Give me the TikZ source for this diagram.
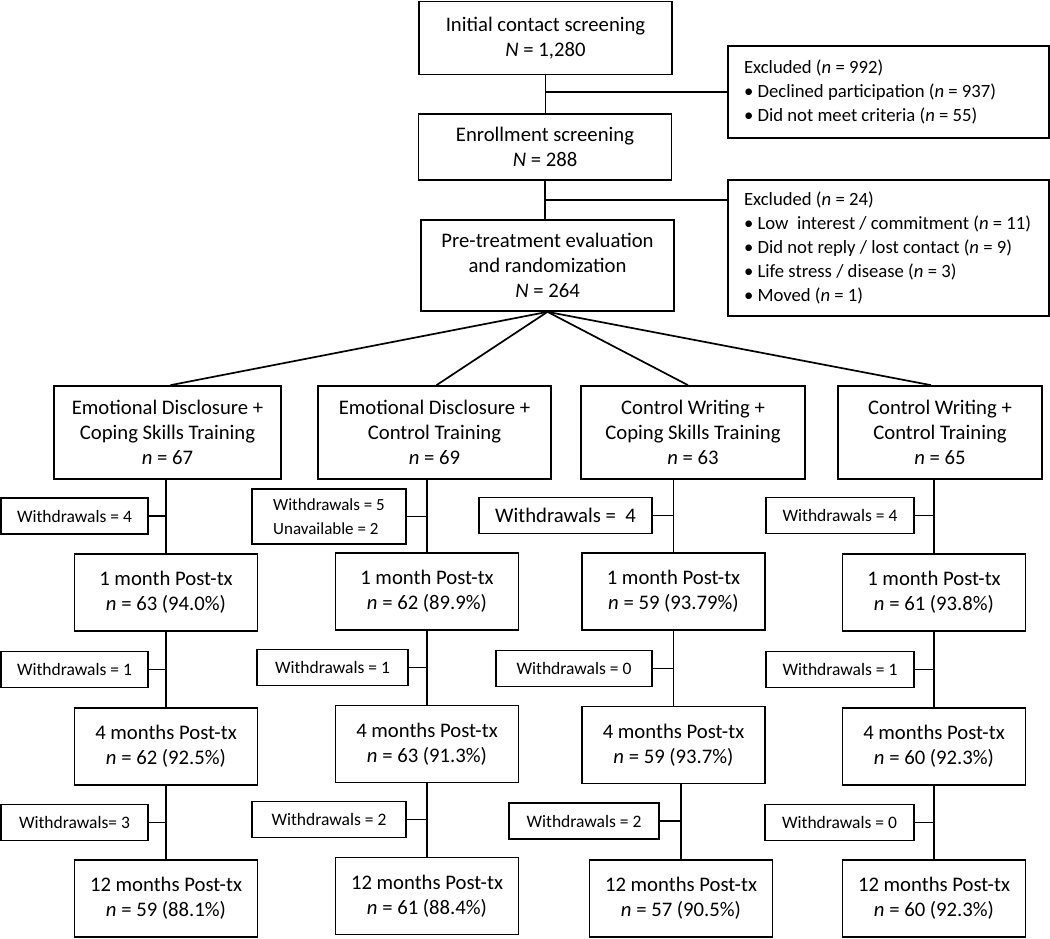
\documentclass[tikz,border=0pt]{standalone}
\usepackage{fontspec}
\setmainfont{Carlito}
\usetikzlibrary{calc}

\begin{document}
\begin{tikzpicture}[x=1pt,y=-1pt,line width=1.7pt,
	box/.style={draw,align=center,inner sep=2pt,minimum width=#1,font=\fontsize{20.7}{25}\selectfont},
	month/.style={box=183pt,minimum height=77pt},
	xbox/.style={draw,align=flush left,inner xsep=16pt,text width=289pt,minimum height=#1,font=\fontsize{18.7}{23.8}\selectfont},
	wbox/.style={draw,align=center,inner sep=1pt,minimum width=#1,minimum height=36pt,font=\fontsize{17.5}{24}\selectfont}]
		\useasboundingbox (0,0) rectangle (1050,938);

		\node[box=253pt,minimum height=73pt] (init) at (545.5,38) {Initial contact screening\\\textit{N} = 1,280};
		\node[box=253pt,minimum height=66pt] (enrol) at (545,147) {Enrollment screening\\\textit{N} = 288};
		\node[box=253pt,minimum height=91pt] (pretx) at (547.5,265.5) {Pre-treatment evaluation\\and randomization\\\textit{N} = 264};
		\node[xbox=92pt] (excl1) at (888.5,92) {Excluded (\textit{n} = 992)\\\textbullet{} Declined participation (\textit{n} = 937)\\\textbullet{} Did not meet criteria (\textit{n} = 55)};
		\node[xbox=136pt] (excl2) at (888.5,248) {Excluded (\textit{n} = 24)\\\textbullet{} Low\ \ interest / commitment (\textit{n} = 11)\\\textbullet{} Did not reply / lost contact (\textit{n} = 9)\\\textbullet{} Life stress / disease (\textit{n} = 3)\\\textbullet{} Moved (\textit{n} = 1)};

		\draw (init.south) -- (init.south |- enrol.north);
		\draw (excl1.west) -- (excl1.west -| init.south);
		\draw (enrol.south) -- (enrol.south |- pretx.north);
		\coordinate (b2) at ($(enrol.south)!.5!(enrol.south |- pretx.north)$);
		\draw (b2) -- (b2 -| excl2.west);

		\node[box=227pt,minimum height=93pt] (g1) at (167.5,432.5) {Emotional Disclosure +\\Coping Skills Training\\\textit{n} = 67};
		\node[box=233pt,minimum height=93pt] (g2) at (434.5,432.5) {Emotional Disclosure +\\Control Training\\\textit{n} = 69};
		\node[box=224pt,minimum height=93pt] (g3) at (693,432.5) {Control Writing +\\Coping Skills Training\\\textit{n} = 63};
		\node[box=204pt,minimum height=93pt] (g4) at (940,432.5) {Control Writing +\\Control Training\\\textit{n} = 65};

		\draw (pretx.south) -- ([xshift=3pt]g1.north);
		\draw (pretx.south) -- ([xshift=2pt]g2.north);
		\draw (pretx.south) -- ([xshift=-5pt]g3.north);
		\draw (pretx.south) -- ([xshift=-9pt]g4.north);

		\node[month] (m11) at (166,592.5) {1 month Post-tx\\\textit{n} = 63 (94.0\%)};
		\node[month] (m12) at (166,746.5) {4 months Post-tx\\\textit{n} = 62 (92.5\%)};
		\node[month] (m13) at (166,898.5) {12 months Post-tx\\\textit{n} = 59 (88.1\%)};
		\node[month] (m21) at (427,591.5) {1 month Post-tx\\\textit{n} = 62 (89.9\%)};
		\node[month] (m22) at (427,744) {4 months Post-tx\\\textit{n} = 63 (91.3\%)};
		\node[month] (m23) at (427,896) {12 months Post-tx\\\textit{n} = 61 (88.4\%)};
		\node[month] (m31) at (673.5,591.5) {1 month Post-tx\\\textit{n} = 59 (93.79\%)};
		\node[month] (m32) at (673.5,745) {4 months Post-tx\\\textit{n} = 59 (93.7\%)};
		\node[month] (m33) at (681,898.5) {12 months Post-tx\\\textit{n} = 57 (90.5\%)};
		\node[month] (m41) at (934,592.5) {1 month Post-tx\\\textit{n} = 61 (93.8\%)};
		\node[month] (m42) at (934,746.5) {4 months Post-tx\\\textit{n} = 60 (92.3\%)};
		\node[month] (m43) at (934,898.5) {12 months Post-tx\\\textit{n} = 60 (92.3\%)};

		\node[wbox=147pt] (w11) at (74.5,516) {Withdrawals = 4};
		\node[wbox=147pt] (w12) at (74.5,669.5) {Withdrawals = 1};
		\node[wbox=147pt] (w13) at (74.5,822.5) {Withdrawals= 3};
		\node[wbox=154pt,minimum height=55pt,align=flush left,font=\fontsize{17}{24}\selectfont] (w21) at (329,516.5) {Withdrawals = 5\\Unavailable = 2};
		\node[wbox=151pt] (w22) at (332.5,667.5) {Withdrawals = 1};
		\node[wbox=154pt] (w23) at (329,819.5) {Withdrawals = 2};
		\node[wbox=173pt,font=\fontsize{20.7}{25}\selectfont] (w31) at (565.5,515.5) {Withdrawals =\ \ 4};
		\node[wbox=156pt] (w32) at (574,668.5) {Withdrawals = 0};
		\node[wbox=150pt] (w33) at (584,821) {Withdrawals = 2};
		\node[wbox=148pt] (w41) at (840,515.5) {Withdrawals = 4};
		\node[wbox=148pt] (w42) at (840,669.5) {Withdrawals = 1};
		\node[wbox=149pt] (w43) at (839.5,822.5) {Withdrawals = 0};

		\draw (m11.north) -- (m11.north |- g1.south);
		\draw (m11.south) -- (m12.north);
		\draw (m12.south) -- (m13.north);
		\draw (m21.north) -- (m21.north |- g2.south);
		\draw (m21.south) -- (m22.north);
		\draw (m22.south) -- (m23.north);
		\draw (m31.north) -- (m31.north |- g3.south);
		\draw (m31.south) -- (m32.north);
		\draw (m33.north) -- (m33.north |- m32.south);
		\draw (m41.north) -- (m41.north |- g4.south);
		\draw (m41.south) -- (m42.north);
		\draw (m42.south) -- (m43.north);

		\draw (w11.east) -- (w11.east -| m11.north);
		\draw (w12.east) -- (w12.east -| m12.north);
		\draw (w13.east) -- (w13.east -| m13.north);
		\draw (w21.east) -- (w21.east -| m21.north);
		\draw (w22.east) -- (w22.east -| m22.north);
		\draw (w23.east) -- (w23.east -| m23.north);
		\draw (w31.east) -- (w31.east -| m31.north);
		\draw (w32.east) -- (w32.east -| m32.north);
		\draw (w33.east) -- (w33.east -| m33.north);
		\draw (w41.east) -- (w41.east -| m41.north);
		\draw (w42.east) -- (w42.east -| m42.north);
		\draw (w43.east) -- (w43.east -| m43.north);

	\end{tikzpicture}
\end{document}
